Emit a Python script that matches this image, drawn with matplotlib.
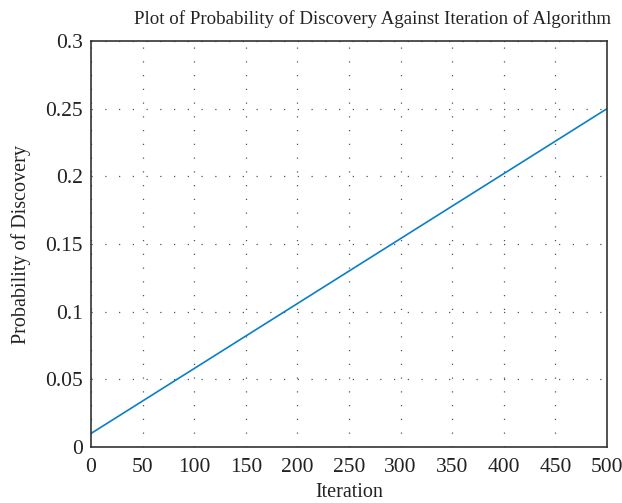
import matplotlib.pyplot as plt

plt.rcParams['font.family'] = ['Liberation Serif', 'DejaVu Serif']

# Probability of discovery read at each 100 iterations
iteration = [0, 100, 200, 300, 400, 500]
probability = [0.010, 0.058, 0.106, 0.154, 0.202, 0.250]

x_ticks = [0, 50, 100, 150, 200, 250, 300, 350, 400, 450, 500]
y_ticks = [0, 0.05, 0.1, 0.15, 0.2, 0.25, 0.3]
y_labels = ['0', '0.05', '0.1', '0.15', '0.2', '0.25', '0.3']

fig = plt.figure(figsize=(6.22, 5.03), dpi=100)
ax = fig.add_axes([0.1463, 0.1113, 0.8296, 0.8072])

ax.plot(iteration, probability, color='#0a7fc8', linewidth=1.2)

ax.set_xlim(0, 500)
ax.set_ylim(0, 0.3)
ax.set_xticks(x_ticks)
ax.set_yticks(y_ticks)
ax.set_yticklabels(y_labels)
ax.tick_params(length=0, labelsize=15.5, colors='#222222')
ax.tick_params(axis='x', pad=8)
ax.tick_params(axis='y', pad=6)

ax.grid(True, linestyle=(0, (1, 10)), color='#555555', linewidth=0.9)
for s in ax.spines.values():
    s.set_color('#333333')
    s.set_linewidth(1.2)

ax.set_xlabel('Iteration', fontsize=14.5, color='#222222', labelpad=4)
ax.set_ylabel('Probability of Discovery', fontsize=14.5, color='#222222', labelpad=10)
ax.set_title('Plot of Probability of Discovery Against Iteration of Algorithm',
             fontsize=13.6, color='#222222', pad=12, x=0.545)

fig.savefig('out.png', dpi=100)
